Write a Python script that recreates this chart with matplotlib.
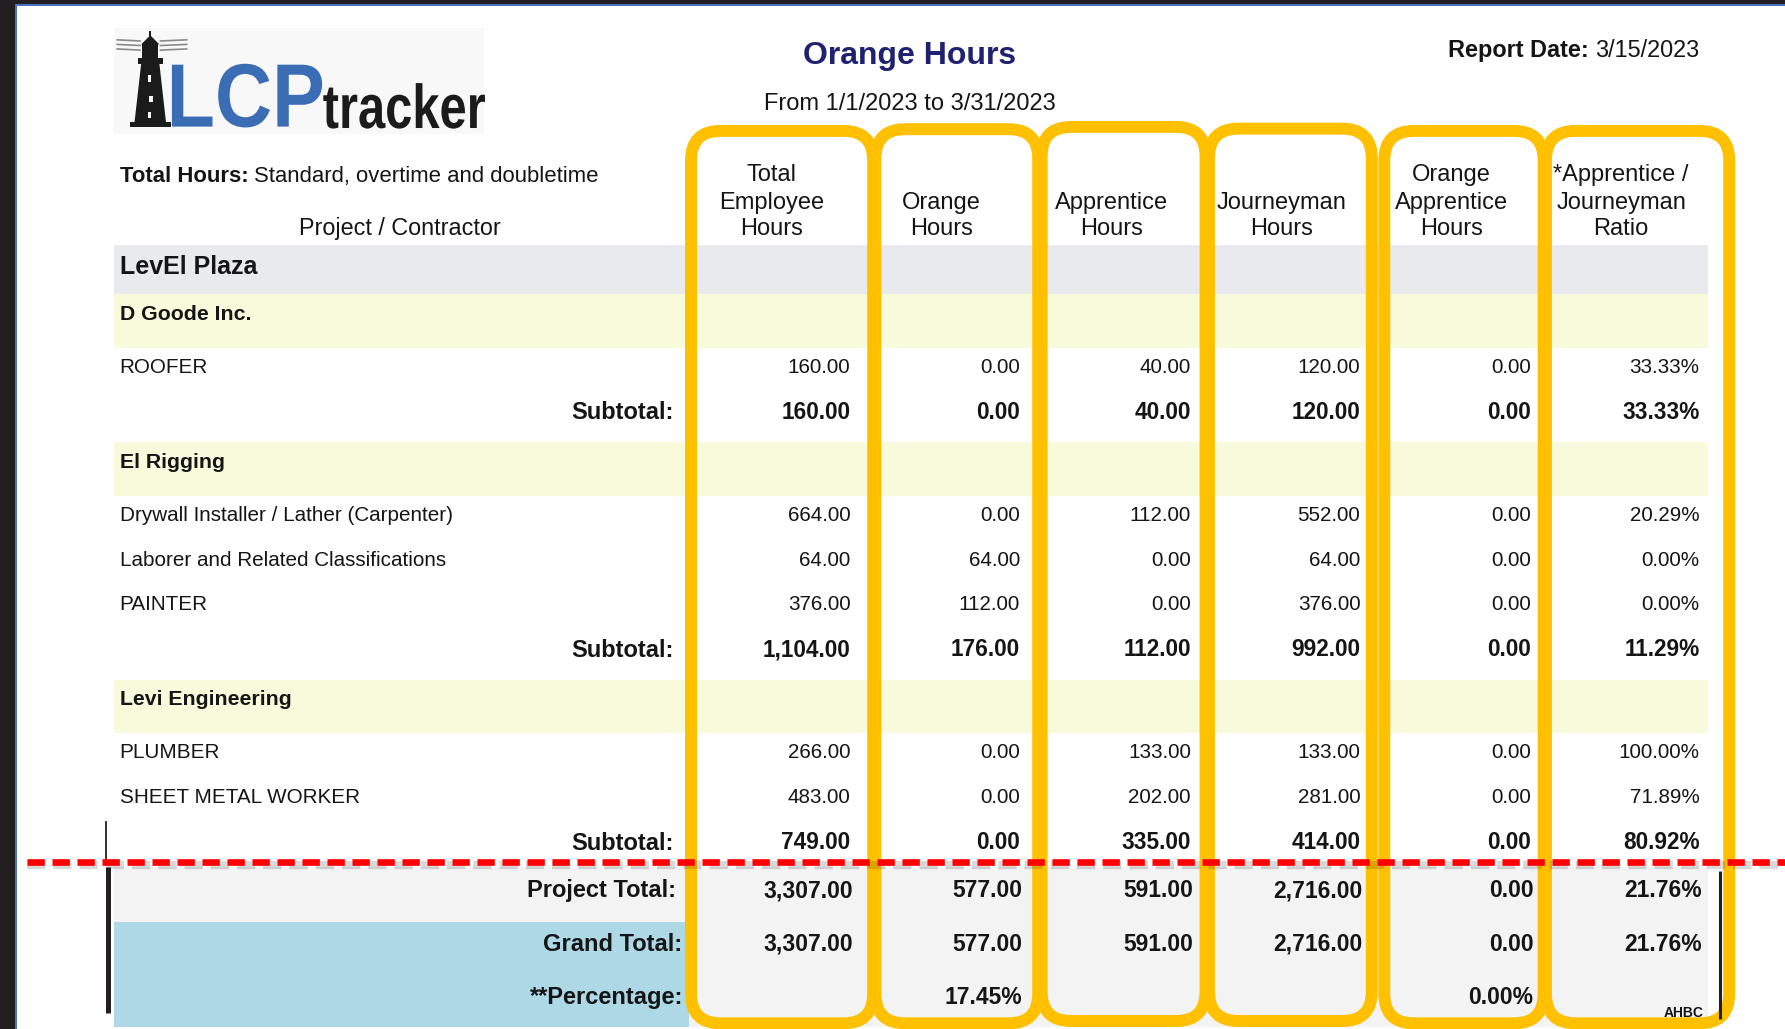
import numpy as np
import matplotlib
matplotlib.use("Agg")
import matplotlib.pyplot as plt
from matplotlib.patches import Rectangle, FancyBboxPatch, Polygon, PathPatch
from matplotlib.textpath import TextPath
from matplotlib.font_manager import FontProperties
from matplotlib.transforms import Affine2D

plt.rcParams['font.family'] = ['Liberation Sans', 'DejaVu Sans']

# ---- report data ----
report_title = "Orange Hours"
period = "From 1/1/2023 to 3/31/2023"
report_date = "3/15/2023"
project = "LevEl Plaza"
contractors = ["D Goode Inc.", "El Rigging", "Levi Engineering"]
crafts = ["ROOFER",
          "Drywall Installer / Lather (Carpenter)",
          "Laborer and Related Classifications",
          "PAINTER",
          "PLUMBER",
          "SHEET METAL WORKER"]
craft_contractor = [0, 1, 1, 1, 2, 2]
col_headers = [["Total", "Employee", "Hours"],
               ["Orange", "Hours"],
               ["Apprentice", "Hours"],
               ["Journeyman", "Hours"],
               ["Orange", "Apprentice", "Hours"],
               ["*Apprentice /", "Journeyman", "Ratio"]]
total_hours = [160, 664, 64, 376, 266, 483]
orange_hours = [0, 0, 64, 112, 0, 0]
apprentice_hours = [40, 112, 0, 0, 133, 202]
journeyman_hours = [120, 552, 64, 376, 133, 281]
orange_apprentice_hours = [0, 0, 0, 0, 0, 0]
ratio_pct = [33.33, 20.29, 0.00, 0.00, 100.00, 71.89]
subtotal_ratio = [33.33, 11.29, 80.92]
# project / grand totals as printed (include contractors not shown)
project_totals = [3307, 577, 591, 2716, 0]
project_ratio = 21.76
orange_pct = 17.45
orange_apprentice_pct = 0.00

hour_cols = [total_hours, orange_hours, apprentice_hours, journeyman_hours, orange_apprentice_hours]

def hrs(v):
    return f"{v:,.2f}"

def pct(v):
    return f"{v:.2f}%"

# ---- canvas: axes in reference pixel units (1568 x 904) ----
fig = plt.figure(figsize=(17.85, 10.29), dpi=100)
ax = fig.add_axes([0, 0, 1, 1])
ax.set_xlim(0, 1568)
ax.set_ylim(904, 0)
ax.axis('off')
U = 72 * (1785 / 1568) / 100  # points per unit
TXT = '#151515'
renderer = fig.canvas.get_renderer()


def put(x, yc, s, fs, bold=False, ha='left', color=TXT, z=3):
    base = yc + 0.358 * fs / U
    return ax.text(x, base, s, fontsize=fs, fontweight='bold' if bold else 'normal',
                   ha=ha, va='baseline', color=color, zorder=z)


def x_extent(t):
    bb = t.get_window_extent(renderer=renderer)
    inv = ax.transData.inverted()
    return inv.transform((bb.x0, bb.y0))[0], inv.transform((bb.x1, bb.y0))[0]


def fit_text(s, x0, x1, y0, y1, color):
    tp = TextPath((0, 0), s, size=100, prop=FontProperties(family='Liberation Sans', weight='bold'))
    bb = tp.get_extents()
    tr = Affine2D().translate(-bb.x0, -bb.y1).scale((x1 - x0) / bb.width, -(y1 - y0) / bb.height).translate(x0, y0)
    ax.add_patch(PathPatch(tr.transform_path(tp), fc=color, ec='none', zorder=3))


# page border
ax.add_patch(Rectangle((0, 0), 13.2, 904, fc='#231F20', ec='none', zorder=9))
ax.add_patch(Rectangle((0, 0), 1568, 3.5, fc='#231F20', ec='none', zorder=9))
ax.add_patch(Rectangle((13.2, 3.5), 1.8, 904, fc='#4A72C4', ec='none', zorder=9))
ax.add_patch(Rectangle((13.2, 3.5), 1568, 1.8, fc='#4A72C4', ec='none', zorder=9))

# ---- logo ----
ax.add_patch(Rectangle((100, 25), 325, 93, fc='#F8F8F8', ec='none', zorder=1))
for yy in [35, 39, 43]:
    ax.plot([103, 123], [yy, yy + 1], color='#8a8a8a', lw=1.2, zorder=2)
    ax.plot([141, 164], [yy + 1, yy], color='#8a8a8a', lw=1.2, zorder=2)
ink = '#1b1b1b'
ax.add_patch(Polygon([(118, 109), (124, 56), (140, 56), (146, 109)], fc=ink, ec='none', zorder=3))
ax.add_patch(Rectangle((114, 107), 36, 5, fc=ink, ec='none', zorder=3))
ax.add_patch(Rectangle((121, 51), 22, 5, fc=ink, ec='none', zorder=3))
ax.add_patch(Rectangle((125, 39), 14, 12, fc=ink, ec='none', zorder=3))
ax.add_patch(Polygon([(124, 39), (132, 31), (140, 39)], fc=ink, ec='none', zorder=3))
ax.add_patch(Rectangle((131, 27), 2, 5, fc=ink, ec='none', zorder=3))
for wx, wy in [(130, 66), (131, 84), (130, 98)]:
    ax.add_patch(Rectangle((wx, wy), 3, 6, fc='#F8F8F8', ec='none', zorder=3))
fit_text("LCP", 151, 283, 56, 112, '#3B6DB5')
fit_text("tracker", 284, 426, 73, 113, ink)

# ---- titles ----
put(799, 46, report_title, 23, bold=True, ha='center', color='#1E2270')
put(799, 89, period, 17, ha='center')
t = put(1493, 43, report_date, 16.9, ha='right')
x0, _ = x_extent(t)
put(x0 - 5.8, 43, "Report Date:", 16.9, bold=True, ha='right')
t = put(105, 153, "Total Hours:", 15.9, bold=True)
_, x1 = x_extent(t)
put(x1 + 5.3, 153, "Standard, overtime and doubletime", 15.9)
put(351, 199, "Project / Contractor", 16.8, ha='center')

COL_MID = [678, 827, 976, 1126, 1275, 1424]
COL_RIGHT = [747, 896, 1046, 1195, 1345, 1493]
for cx, lines in zip(COL_MID, col_headers):
    ys = [152, 176, 199][-len(lines):]
    for yy, s in zip(ys, lines):
        put(cx, yy, s, 17, ha='center')

# ---- bands ----
ax.add_patch(Rectangle((100, 215), 1400, 43, fc='#E8EAEE', ec='none', zorder=1))
put(105, 233, project, 18, bold=True)

y = 258.5
rows_y = []
sub_y = []
for ci, name in enumerate(contractors):
    ax.add_patch(Rectangle((100, y), 1400, 47, fc='#F8FADC', ec='none', zorder=1))
    put(105, y + 16, name, 15.3, bold=True)
    idx = [i for i, c in enumerate(craft_contractor) if c == ci]
    yy = y + 62.5
    for k, i in enumerate(idx):
        rows_y.append(yy)
        if k < len(idx) - 1:
            yy += 39.3
    yy += 40
    sub_y.append(yy)
    y = yy + 27.5

for i, craft in enumerate(crafts):
    yy = rows_y[i]
    put(105, yy, craft, 14.9)
    for j, col in enumerate(hour_cols):
        put(COL_RIGHT[j], yy, hrs(col[i]), 14.9, ha='right')
    put(COL_RIGHT[5], yy, pct(ratio_pct[i]), 14.9, ha='right')

for ci in range(len(contractors)):
    yy = sub_y[ci]
    idx = [i for i, c in enumerate(craft_contractor) if c == ci]
    put(592, yy, "Subtotal:", 17, bold=True, ha='right')
    for j, col in enumerate(hour_cols):
        put(COL_RIGHT[j], yy, hrs(sum(col[i] for i in idx)), 16.3, bold=True, ha='right')
    put(COL_RIGHT[5], yy, pct(subtotal_ratio[ci]), 16.3, bold=True, ha='right')

# ---- totals ----
ax.add_patch(Rectangle((100, 762), 1400, 48, fc='#F3F3F3', ec='none', zorder=1))
ax.add_patch(Rectangle((100, 810), 505, 92, fc='#ADD8E6', ec='none', zorder=1))
ax.add_patch(Rectangle((605, 810), 895, 92, fc='#F3F3F3', ec='none', zorder=1))
for yy, label, lx in [(781, "Project Total:", 594), (828, "Grand Total:", 599)]:
    put(lx, yy, label, 17, bold=True, ha='right')
    for j, v in enumerate(project_totals):
        put(COL_RIGHT[j] + 2, yy, hrs(v), 16.5, bold=True, ha='right')
    put(COL_RIGHT[5] + 2, yy, pct(project_ratio), 16.5, bold=True, ha='right')
put(600, 875, "**Percentage:", 17, bold=True, ha='right')
put(COL_RIGHT[1] + 2, 875, pct(orange_pct), 16.5, bold=True, ha='right')
put(COL_RIGHT[4] + 2, 875, pct(orange_apprentice_pct), 16.5, bold=True, ha='right')
put(1496, 889.5, "AHBC", 10, bold=True, ha='right')

# ---- highlight boxes ----
BOXES = [(607, 767, 115, 899), (769, 912, 113.5, 899), (915, 1059, 111.5, 897),
         (1062, 1205, 113, 897), (1216, 1356, 115, 899), (1358, 1519, 115, 899)]
for bx0, bx1, by0, by1 in BOXES:
    ax.add_patch(FancyBboxPatch((bx0, by0), bx1 - bx0, by1 - by0,
                                boxstyle="round,pad=0,rounding_size=26",
                                fc='none', ec='#FFC000', lw=8.6, zorder=4))

# black markers
ax.plot([93, 93], [722, 757], color='#231F20', lw=1.3, zorder=5)
ax.plot([95, 95], [762, 890], color='#231F20', lw=3.6, zorder=5, solid_capstyle='butt')
ax.plot([1511, 1511], [765, 895], color='#231F20', lw=2.2, zorder=5, solid_capstyle='butt')

# red dashed cut line
ax.plot([24, 1568], [759.5, 759.5], color='black', alpha=0.15, lw=6,
        linestyle=(0, (2.2, 0.95)), zorder=6)
ax.plot([24, 1568], [757, 757], color='#FF0000', lw=4.8,
        linestyle=(0, (2.6, 1.15)), zorder=7)

fig.savefig('out.png', dpi=100)
